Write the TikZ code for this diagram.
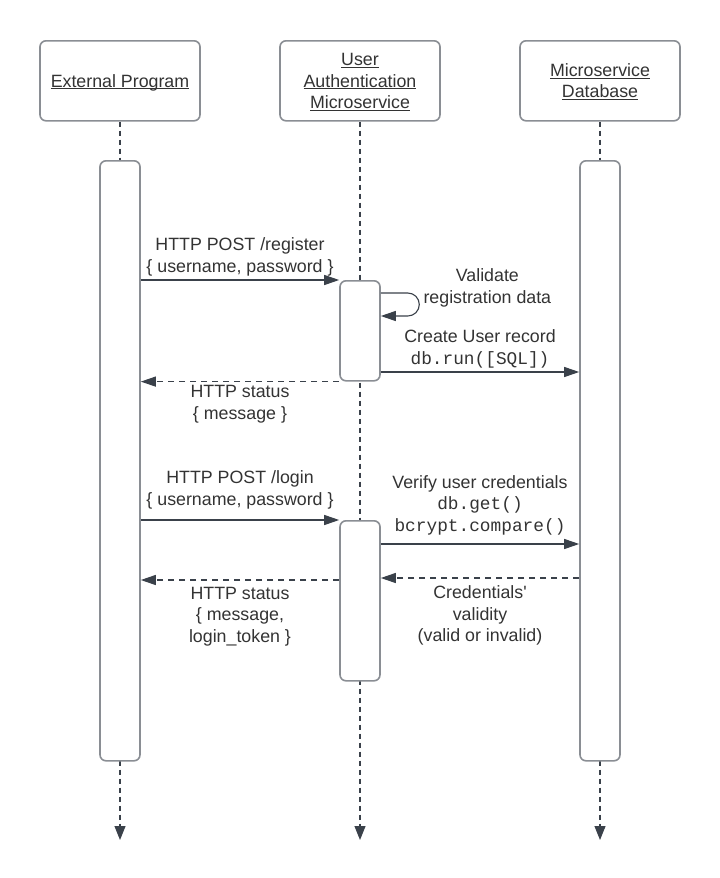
\documentclass[tikz,border=0pt]{standalone}
\usepackage{fontspec}
\setmainfont{Liberation Sans}
\setmonofont{Liberation Mono}
\usetikzlibrary{arrows.meta}

\definecolor{linegray}{HTML}{8A8E94}
\definecolor{inkdark}{HTML}{3A414A}
\definecolor{textdark}{HTML}{333333}

\newcommand\undertext[1]{\underline{\smash{#1}}}

\begin{document}
\begin{tikzpicture}[x=1pt,y=-1pt,
  every node/.style={align=center, text=textdark, font=\fontsize{17.8}{21.5}\selectfont},
  actor/.style={draw=linegray, line width=1.6pt, rounded corners=6pt, fill=white,
    minimum width=160pt, minimum height=80pt, text height=12.8pt, text depth=0pt, anchor=north},
  bar/.style={draw=linegray, line width=1.6pt, rounded corners=6pt, fill=white,
    minimum width=40pt, inner sep=0pt, anchor=north},
  life/.style={draw=inkdark, line width=1.1pt, dash pattern=on 5pt off 4pt,
    -{Triangle[length=14pt,width=11pt]}},
  msg/.style={draw=inkdark, line width=1.1pt, -{Triangle[length=15pt,width=10pt]}},
  reply/.style={msg, dash pattern=on 6pt off 5pt}]

\useasboundingbox (0,0) rectangle (720,878);

% Participants
\node[actor] (ext) at (120,40) {\undertext{External Program}};
\node[actor, text height=55.8pt] (auth) at (360,40) {\undertext{User}\\\undertext{Authentication}\\\undertext{Microservice}};
\node[actor, text height=34.3pt] (db) at (600,40) {\undertext{Microservice}\\\undertext{Database}};

% Lifelines
\coordinate (extEnd) at (120,840);
\coordinate (authEnd) at (360,840);
\coordinate (dbEnd) at (600,840);
\draw[life] (ext) -- (extEnd);
\draw[life] (auth) -- (authEnd);
\draw[life] (db) -- (dbEnd);

% Activation bars
\node[bar, minimum height=600pt] (extBar) at (120,160) {};
\node[bar, minimum height=600pt] (dbBar) at (600,160) {};
\node[bar, minimum height=100pt] (authReg) at (360,280) {};
\node[bar, minimum height=160pt] (authLogin) at (360,520) {};

% Message rows
\coordinate (rowLoopTop) at (0,293);
\coordinate (rowLoopBot) at (0,316);
\coordinate (rowCreate) at (0,372);
\coordinate (rowVerify) at (0,544);
\coordinate (rowCheck) at (0,578);
\coordinate (rowToken) at (0,580);

% Register
\draw[msg] (extBar.east |- authReg.north) -- node[above] {HTTP POST /register\\\{ username, password \}} (authReg.north west);
\draw[msg] (authReg.east |- rowLoopTop) -- ++(27,0) arc[start angle=-90, end angle=90, radius=11.5] -- (authReg.east |- rowLoopBot);
\node[anchor=west] (validate) at (420,288) {Validate\\registration data};
\draw[msg] (authReg.east |- rowCreate) -- node[above] {Create User record\\\texttt{db.run([SQL])}} (dbBar.west |- rowCreate);
\draw[reply] (authReg.south west) -- node[below] {HTTP status\\\{ message \}} (extBar.east |- authReg.south);

% Login
\draw[msg] (extBar.east |- authLogin.north) -- node[above=7pt] {HTTP POST /login\\\{ username, password \}} (authLogin.north west);
\draw[msg] (authLogin.east |- rowVerify) -- node[above=5pt] {Verify user credentials\\\texttt{db.get()}\\\texttt{bcrypt.compare()}} (dbBar.west |- rowVerify);
\draw[reply] (dbBar.west |- rowCheck) -- node[below=4pt] {Credentials\textquotesingle\\validity\\(valid or invalid)} (authLogin.east |- rowCheck);
\draw[reply] (authLogin.west |- rowToken) -- node[below=3pt] {HTTP status\\\{ message,\\login\_token \}} (extBar.east |- rowToken);

\end{tikzpicture}
\end{document}
